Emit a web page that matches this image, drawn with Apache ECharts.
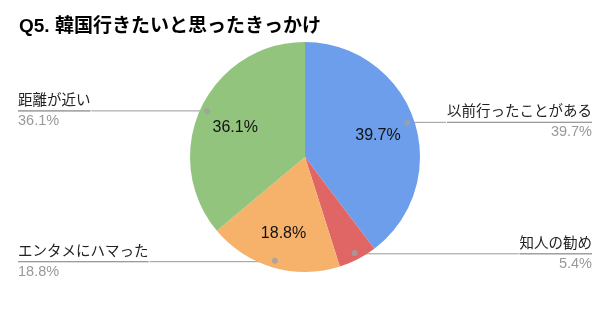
<!DOCTYPE html>
<html>
<head>
<meta charset="utf-8">
<script src="https://cdn.jsdelivr.net/npm/echarts@6/dist/echarts.min.js"></script>
<style>
  html, body { margin: 0; padding: 0; background: #fff; }
  #chart { width: 610px; height: 310px; }
</style>
</head>
<body>
<div id="chart"></div>
<script>
const categories = ['以前行ったことがある', '知人の勧め', 'エンタメにハマった', '距離が近い'];
const values = [39.7, 5.4, 18.8, 36.1];
const colors = ['#6d9eeb', '#e06666', '#f6b26b', '#93c47d'];

const font = "'Liberation Sans', Arial, 'Noto Sans CJK JP', sans-serif";
const R = 115;
const dotR = 108;

// mid point of each slice in percent, for the small dots
const total = values.reduce((a, b) => a + b, 0);
let acc = 0;
const mids = values.map(v => {
  const m = acc + v / 2;
  acc += v;
  return [dotR, m / total * 100];
});

const chart = echarts.init(document.getElementById('chart'));

chart.setOption({
  animation: false,
  title: {
    text: 'Q5. 韓国行きたいと思ったきっかけ',
    left: 14,
    top: 12,
    textStyle: { fontSize: 19, fontWeight: 'bold', color: '#000', fontFamily: font }
  },
  polar: { center: ['50%', 157], radius: R },
  angleAxis: { type: 'value', min: 0, max: 100, startAngle: 90, show: false },
  radiusAxis: { type: 'value', min: 0, max: R, show: false },
  series: [
    {
      type: 'pie',
      center: ['50%', 157],
      radius: R,
      silent: true,
      label: { show: false },
      labelLine: { show: false },
      data: categories.map((c, i) => ({ name: c, value: values[i], itemStyle: { color: colors[i] } }))
    },
    {
      // inner percentage labels
      type: 'pie',
      center: ['50%', 157],
      radius: [33, R],
      silent: true,
      itemStyle: { color: 'rgba(0,0,0,0)' },
      label: {
        show: true,
        position: 'inside',
        fontSize: 16,
        color: '#111',
        fontFamily: font,
        offset: [0, 3],
        formatter: p => p.value.toFixed(1) + '%'
      },
      labelLine: { show: false },
      data: categories.map((c, i) => ({
        name: c,
        value: values[i],
        label: { show: values[i] > 10 }
      }))
    },
    {
      // outside name labels
      type: 'pie',
      center: ['50%', 157],
      radius: dotR,
      silent: true,
      itemStyle: { color: 'rgba(0,0,0,0)' },
      label: {
        show: true,
        position: 'outside',
        alignTo: 'edge',
        edgeDistance: 18,
        distanceToLabelLine: 0,
        fontFamily: font,
        formatter: p => '{name|' + p.name + '}\n{hr|}\n{per|' + p.value.toFixed(1) + '%}',
        rich: {
          name: { fontSize: 14.5, color: '#222', lineHeight: 20, fontFamily: font },
          hr: { borderColor: '#999', width: '100%', borderWidth: 1, height: 0 },
          per: { fontSize: 14.5, color: '#999', lineHeight: 20, fontFamily: font }
        }
      },
      labelLine: { show: true, length: 1, length2: 10, lineStyle: { color: '#999', width: 1 } },
      data: categories.map((c, i) => ({ name: c, value: values[i] }))
    },
    {
      type: 'scatter',
      coordinateSystem: 'polar',
      silent: true,
      symbolSize: 6,
      itemStyle: { color: '#a0a0a0' },
      data: mids
    }
  ]
});
</script>
</body>
</html>
